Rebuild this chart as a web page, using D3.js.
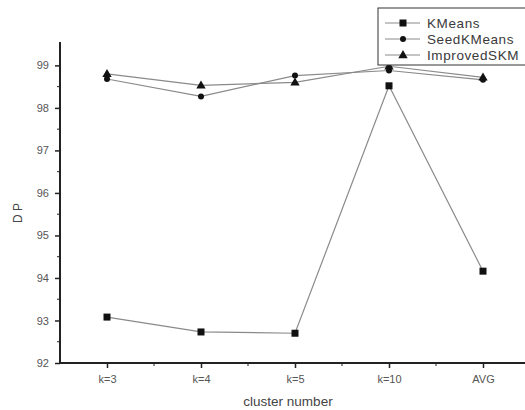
<!DOCTYPE html>
<html>
<head>
<meta charset="utf-8">
<script src="https://cdn.jsdelivr.net/npm/d3@7"></script>
<style>
  body { margin: 0; background: #fff; }
  svg { display: block; font-family: "Liberation Sans", Arial, sans-serif; }
</style>
</head>
<body>
<svg id="chart" width="525" height="410"></svg>
<script>
const categories = ["k=3", "k=4", "k=5", "k=10", "AVG"];
const kmeans = [93.08, 92.73, 92.70, 98.52, 94.16];
const seedKMeans = [98.68, 98.27, 98.76, 98.88, 98.66];
const improvedSKM = [98.80, 98.53, 98.60, 98.98, 98.72];
const yTicks = [92, 93, 94, 95, 96, 97, 98, 99];
const seriesNames = ["KMeans", "SeedKMeans", "ImprovedSKM"];

(function () {
const svg = d3.select("#chart");
const mLeft = 60, mRight = 530, mTop = 42, mBottom = 363;

const x = d3.scaleLinear().domain([-0.5, 4.5]).range([mLeft, mRight]);
const y = d3.scaleLinear().domain([92, 99.55]).range([mBottom, mTop]);

const axisColor = "#222";
const labelColor = "#555";

// minor ticks
const yMinor = d3.range(92.5, 99.5, 1);
svg.append("g").selectAll("line").data(yMinor).join("line")
  .attr("x1", mLeft - 3).attr("x2", mLeft)
  .attr("y1", d => y(d)).attr("y2", d => y(d))
  .attr("stroke", axisColor).attr("stroke-width", 1);
const xMinor = d3.range(0.5, 4, 1);
svg.append("g").selectAll("line").data(xMinor).join("line")
  .attr("y1", mBottom).attr("y2", mBottom + 3)
  .attr("x1", d => x(d)).attr("x2", d => x(d))
  .attr("stroke", axisColor).attr("stroke-width", 1);

// y axis
const yAxis = svg.append("g").attr("transform", `translate(${mLeft},0)`)
  .call(d3.axisLeft(y).tickValues(yTicks).tickSize(5).tickPadding(6).tickFormat(d3.format("d")));
yAxis.select(".domain").attr("stroke", axisColor).attr("stroke-width", 2)
  .attr("d", `M0,${mBottom}V${mTop}`);
yAxis.selectAll(".tick line").attr("stroke", axisColor).attr("stroke-width", 1.5);
yAxis.selectAll("text").attr("fill", labelColor).attr("font-size", 11)
  .attr("font-family", "Liberation Sans, Arial, sans-serif");

// x axis
const xAxis = svg.append("g").attr("transform", `translate(0,${mBottom})`)
  .call(d3.axisBottom(x).tickValues(d3.range(categories.length)).tickSize(5).tickPadding(7)
    .tickFormat(i => categories[i]));
xAxis.select(".domain").attr("stroke", axisColor).attr("stroke-width", 2)
  .attr("d", `M${mLeft - 1},0H${mRight}`);
xAxis.selectAll(".tick line").attr("stroke", axisColor).attr("stroke-width", 1.5);
xAxis.selectAll("text").attr("fill", labelColor).attr("font-size", 11)
  .attr("font-family", "Liberation Sans, Arial, sans-serif");

// axis titles
svg.append("text").attr("x", 288).attr("y", 406).attr("text-anchor", "middle")
  .attr("font-size", 13.5).attr("fill", "#444").text("cluster number");
svg.append("text").attr("transform", "translate(22,213) rotate(-90)")
  .attr("text-anchor", "middle").attr("font-size", 12).attr("fill", "#444").text("D P");

const line = d3.line().x((d, i) => x(i)).y(d => y(d));
const lineColor = "#8a8a8a";
const allSeries = [kmeans, seedKMeans, improvedSKM];

allSeries.forEach(s => {
  svg.append("path").datum(s).attr("d", line)
    .attr("fill", "none").attr("stroke", lineColor).attr("stroke-width", 1.2);
});

function drawMarker(g, type, cx, cy) {
  if (type === 0) {
    g.append("rect").attr("x", cx - 3.5).attr("y", cy - 3.5).attr("width", 7).attr("height", 7).attr("fill", "#111");
  } else if (type === 1) {
    g.append("circle").attr("cx", cx).attr("cy", cy).attr("r", 3).attr("fill", "#111");
  } else {
    g.append("path").attr("d", d3.symbol().type(d3.symbolTriangle).size(38)())
      .attr("transform", `translate(${cx},${cy + 0.5})`).attr("fill", "#111");
  }
}

const markers = svg.append("g");
allSeries.forEach((s, k) => {
  s.forEach((v, i) => drawMarker(markers, k, x(i), y(v)));
});

// legend
const lg = svg.append("g");
lg.append("rect").attr("x", 378).attr("y", 8).attr("width", 160).attr("height", 57)
  .attr("fill", "#fff").attr("stroke", "#333").attr("stroke-width", 1);
const legendY = [23, 39, 55];
seriesNames.forEach((name, k) => {
  lg.append("line").attr("x1", 385).attr("x2", 420).attr("y1", legendY[k]).attr("y2", legendY[k])
    .attr("stroke", lineColor).attr("stroke-width", 1.2);
  drawMarker(lg, k, 403, legendY[k]);
  lg.append("text").attr("x", 427).attr("y", legendY[k] + 4.5).attr("font-size", 13.5)
    .attr("fill", "#3a3a3a").attr("letter-spacing", 0.6).text(name);
});
})();
</script>
</body>
</html>
